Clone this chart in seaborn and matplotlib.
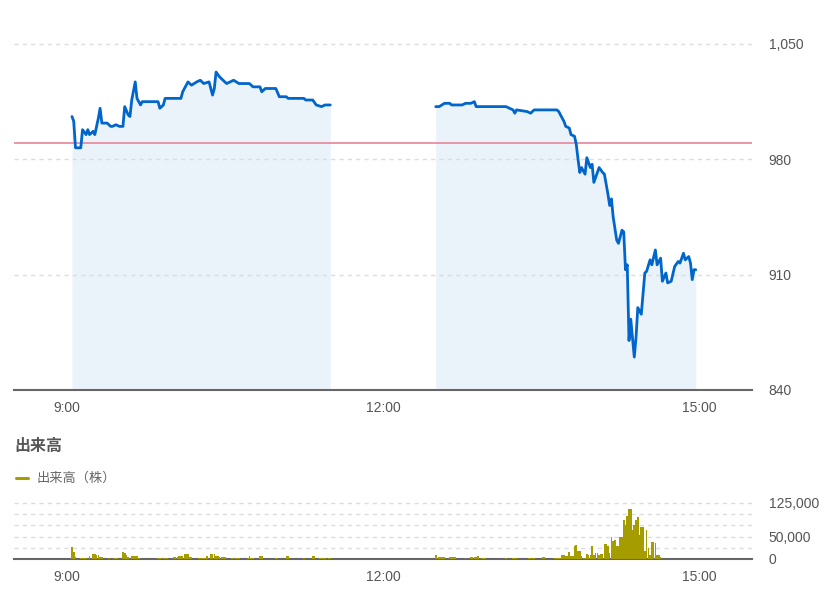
import matplotlib
matplotlib.use("Agg")
import pandas as pd
import seaborn as sns
from matplotlib import pyplot as plt
from matplotlib.lines import Line2D

# 株価 (前場)
am_times = ["9:03", "9:04", "9:05", "9:08", "9:09", "9:11", "9:12", "9:13", "9:15", "9:16",
            "9:18", "9:19", "9:20", "9:23", "9:25", "9:26", "9:28", "9:30", "9:32", "9:33",
            "9:35", "9:36", "9:37", "9:39", "9:40", "9:42", "9:43", "9:52", "9:53", "9:55",
            "9:56", "10:05", "10:06", "10:09", "10:11", "10:14", "10:16", "10:18", "10:21", "10:23",
            "10:24", "10:25", "10:27", "10:29", "10:31", "10:33", "10:35", "10:38", "10:44", "10:46",
            "10:50", "10:51", "10:53", "10:59", "11:01", "11:05", "11:06", "11:15", "11:16", "11:20",
            "11:22", "11:25", "11:27", "11:30"]
am_prices = [1006, 1003, 987, 987, 998, 995, 998, 995, 997, 995,
             1005, 1011, 1002, 1002, 1000, 1000, 1001, 1000, 1000, 1012,
             1007, 1006, 1016, 1027, 1017, 1013, 1015, 1015, 1011, 1013,
             1017, 1017, 1021, 1027, 1025, 1027, 1028, 1026, 1027, 1019,
             1023, 1033, 1030, 1028, 1026, 1027, 1028, 1026, 1026, 1024,
             1024, 1021, 1023, 1023, 1018, 1018, 1017, 1017, 1016, 1016,
             1013, 1012, 1013, 1013]

# 株価 (後場)
pm_times = ["12:30", "12:32", "12:35", "12:38", "12:39", "12:45", "12:47", "12:50", "12:52", "12:53",
            "13:10", "13:14", "13:15", "13:16", "13:22", "13:24", "13:26", "13:39", "13:40", "13:41",
            "13:43", "13:44", "13:46", "13:47", "13:49", "13:50", "13:51", "13:52", "13:53", "13:55",
            "13:56", "13:58", "13:59", "14:00", "14:03", "14:05", "14:06", "14:08", "14:09", "14:10",
            "14:11", "14:13", "14:14", "14:16", "14:17", "14:18", "14:19", "14:20", "14:21", "14:23",
            "14:24", "14:25", "14:27", "14:29", "14:30", "14:32", "14:33", "14:35", "14:36", "14:38",
            "14:39", "14:41", "14:42", "14:44", "14:46", "14:48", "14:49", "14:51", "14:52", "14:54",
            "14:55", "14:56", "14:57", "14:58"]
pm_prices = [1012, 1012, 1014, 1014, 1013, 1013, 1014, 1014, 1015, 1012,
             1012, 1010, 1008, 1010, 1009, 1008, 1010, 1010, 1009, 1007,
             1003, 1000, 999, 995, 994, 989, 980, 972, 975, 971,
             981, 975, 977, 966, 975, 972, 971, 959, 952, 956,
             945, 931, 929, 937, 936, 913, 916, 870, 883, 860,
             872, 890, 886, 911, 912, 919, 916, 925, 916, 920,
             906, 911, 905, 906, 915, 918, 917, 923, 919, 921,
             917, 907, 913, 913]

prev_close = 990

# 出来高 (株)
vol_times = ["9:03", "9:04", "9:05", "9:08", "9:09", "9:10", "9:11", "9:13", "9:15", "9:16",
             "9:17", "9:18", "9:19", "9:20", "9:24", "9:27", "9:28", "9:29", "9:32", "9:33",
             "9:34", "9:35", "9:37", "9:38", "9:39", "9:40", "9:41", "9:52", "9:53", "9:54",
             "9:55", "9:56", "9:57", "10:01", "10:02", "10:03", "10:04", "10:05", "10:06", "10:07",
             "10:08", "10:09", "10:10", "10:11", "10:15", "10:16", "10:17", "10:18", "10:19", "10:20",
             "10:22", "10:23", "10:24", "10:25", "10:26", "10:27", "10:28", "10:29", "10:30", "10:34",
             "10:35", "10:36", "10:37", "10:38", "10:43", "10:44", "10:45", "10:46", "10:50", "10:51",
             "10:59", "11:00", "11:05", "11:06", "11:15", "11:20", "11:21", "11:24", "11:25", "11:26",
             "11:27", "11:29", "11:30",
             "12:30", "12:32", "12:33", "12:34", "12:35", "12:38", "12:39", "12:40", "12:41", "12:47",
             "12:50", "12:51", "12:52", "12:53", "12:54", "12:56", "12:57", "12:58", "13:10", "13:14",
             "13:15", "13:16", "13:23", "13:24", "13:25", "13:26", "13:31", "13:32", "13:38", "13:39",
             "13:40", "13:41", "13:42", "13:43", "13:44", "13:45", "13:46", "13:47", "13:48", "13:49",
             "13:50", "13:51", "13:52", "13:53", "13:54", "13:55", "13:56", "13:57", "13:58", "13:59",
             "14:00", "14:01", "14:02", "14:03", "14:04", "14:05", "14:06", "14:07", "14:08", "14:09",
             "14:10", "14:11", "14:12", "14:13", "14:14", "14:15", "14:16", "14:17", "14:18", "14:19",
             "14:20", "14:21", "14:22", "14:23", "14:24", "14:25", "14:26", "14:27", "14:28", "14:29",
             "14:30", "14:31", "14:32", "14:33", "14:34", "14:35", "14:36", "14:37", "14:38"]
vol_shares = [27000, 15000, 5000, 2000, 2000, 2000, 2000, 7000, 12000, 12000,
              9000, 9000, 4000, 4000, 2000, 2000, 2000, 2000, 15000, 14000,
              10000, 5000, 7000, 7000, 6000, 6000, 2000, 2000, 2000, 2000,
              2000, 2000, 2000, 5000, 5000, 5000, 7000, 7000, 7000, 11000,
              11000, 11000, 4000, 4000, 2000, 2000, 2000, 2000, 2000, 6000,
              12000, 12000, 12000, 7000, 7000, 4000, 4000, 4000, 4000, 2000,
              2000, 2000, 2000, 2000, 2000, 6000, 2000, 2000, 7000, 7000,
              2000, 2000, 7000, 7000, 2000, 6000, 6000, 2000, 2000, 2000,
              2000, 2000, 2000,
              10000, 4000, 4000, 4000, 4000, 4000, 4000, 4000, 4000, 3000,
              4000, 4000, 4000, 4000, 6000, 3000, 3000, 3000, 3000, 3000,
              3000, 3000, 3000, 3000, 3000, 3000, 4000, 4000, 2000, 2000,
              2000, 2000, 8000, 8000, 6000, 6000, 15000, 6000, 6000, 28000,
              32000, 17000, 17000, 6000, 2000, 2000, 11000, 10000, 10000, 28000,
              10000, 13000, 13000, 10000, 11000, 11000, 33000, 33000, 30000, 13000,
              50000, 41000, 43000, 28000, 28000, 49000, 49000, 88000, 77000, 95000,
              112000, 112000, 65000, 75000, 88000, 94000, 54000, 71000, 71000, 17000,
              65000, 25000, 10000, 38000, 38000, 36000, 10000, 8000, 4000]


def to_min(t):
    h, m = t.split(":")
    return (int(h) - 9) * 60 + int(m)


sns.set_theme(style="white")
plt.rcParams["font.family"] = ["Liberation Sans", "Noto Sans CJK JP"]

W, H = 828, 601
fig = plt.figure(figsize=(W / 100, H / 100), dpi=100)
ax = fig.add_axes([14 / W, 1 - 390 / H, 738 / W, 346 / H])
ax2 = fig.add_axes([14 / W, 1 - 559 / H, 738 / W, 56 / H])

line_col = "#0066cc"
vol_col = "#a59c00"
grid_kw = dict(color="#dcdcdc", lw=1, ls=(0, (3, 3)), clip_on=False)
text_col = "#555555"
x_range = (-30, 390)   # 8:30 - 15:30

# 株価チャート
for times, prices in [(am_times, am_prices), (pm_times, pm_prices)]:
    df = pd.DataFrame({"t": [to_min(t) for t in times], "price": prices})
    ax.fill_between(df["t"], df["price"], 840, color="#eaf2fa", lw=0, zorder=1)
    sns.lineplot(data=df, x="t", y="price", ax=ax, color=line_col, lw=2, zorder=3)

for v in [910, 980, 1050]:
    ax.axhline(v, zorder=2, **grid_kw)
ax.axhline(prev_close, color="#e8849a", lw=1.2, zorder=2.5)

ax.set_xlim(*x_range)
ax.set_ylim(840, 1050)
ax.set_xticks([0, 180, 360], ["9:00", "12:00", "15:00"])
ax.yaxis.tick_right()
ax.set_yticks([840, 910, 980, 1050], ["840", "910", "980", "1,050"])
ax.tick_params(axis="y", length=0, pad=12, labelcolor=text_col, labelsize=10)
ax.tick_params(axis="x", length=0, pad=8, labelcolor=text_col, labelsize=10)
ax.set_xlabel("")
ax.set_ylabel("")
for s in ["top", "left", "right"]:
    ax.spines[s].set_visible(False)
ax.spines["bottom"].set_color("#666666")
ax.spines["bottom"].set_linewidth(1.5)

# 出来高チャート
vol = pd.DataFrame({"t": [to_min(t) for t in vol_times], "shares": vol_shares})
sns.histplot(data=vol, x="t", weights="shares", discrete=True, shrink=0.92,
             color=vol_col, alpha=1, linewidth=0, ax=ax2, zorder=3)
for v in [25000, 50000, 75000, 100000, 125000]:
    ax2.axhline(v, zorder=1, **grid_kw)

ax2.set_xlim(*x_range)
ax2.set_ylim(0, 125000)
ax2.set_xticks([0, 180, 360], ["9:00", "12:00", "15:00"])
ax2.yaxis.tick_right()
ax2.set_yticks([0, 25000, 50000, 75000, 100000, 125000],
               ["0", "", "50,000", "", "", "125,000"])
ax2.tick_params(axis="y", length=0, pad=12, labelcolor=text_col, labelsize=10)
ax2.tick_params(axis="x", length=0, pad=8, labelcolor=text_col, labelsize=10)
ax2.set_xlabel("")
ax2.set_ylabel("")
for s in ["top", "left", "right"]:
    ax2.spines[s].set_visible(False)
ax2.spines["bottom"].set_color("#666666")
ax2.spines["bottom"].set_linewidth(1.5)

# 見出しと凡例
fig.text(14 / W, 1 - 446 / H, "出来高", fontsize=11.5, fontweight="bold",
         color=text_col, va="center")
fig.add_artist(Line2D([16 / W, 28 / W], [1 - 478 / H, 1 - 478 / H],
                      color=vol_col, lw=2.2))
fig.text(37 / W, 1 - 478 / H, "出来高（株）", fontsize=9.5, color="#666666", va="center")

fig.savefig("out.png", dpi=100)
